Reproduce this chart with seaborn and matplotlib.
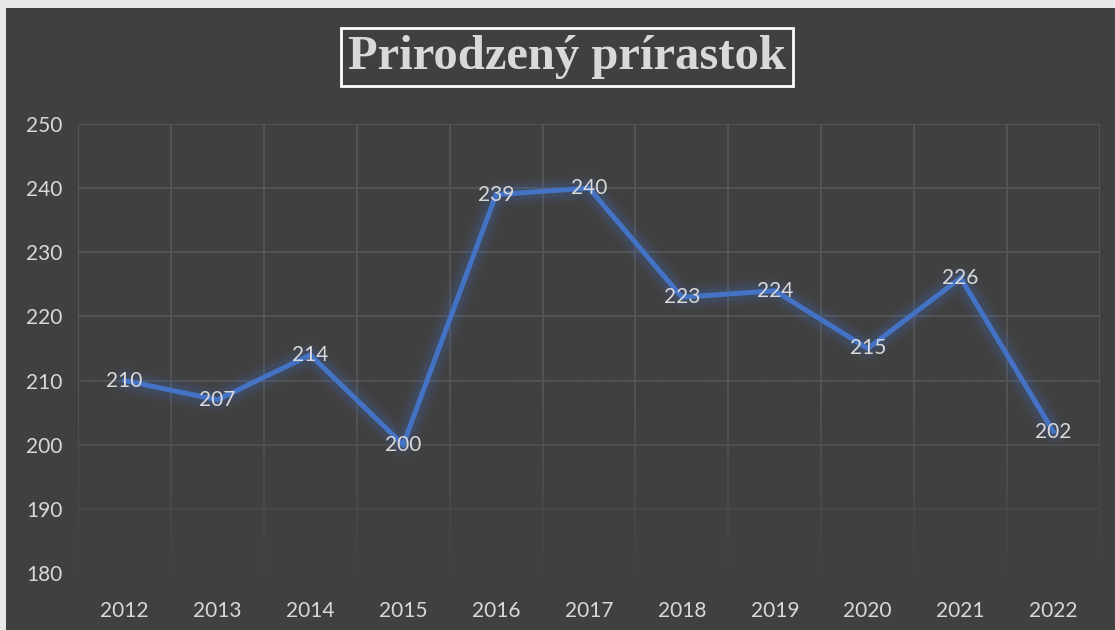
import numpy as np
import matplotlib.pyplot as plt
import matplotlib.patches as patches
import seaborn as sns
import pandas as pd

# data
years = [2012, 2013, 2014, 2015, 2016, 2017, 2018, 2019, 2020, 2021, 2022]
values = [210, 207, 214, 200, 239, 240, 223, 224, 215, 226, 202]
title = 'Prirodzený prírastok'

df = pd.DataFrame({'rok': years, 'prirastok': values})

bg = '#404040'
txt = '#d9d9d9'
blue = '#4472C4'

sns.set_theme(style='dark')
plt.rcParams['font.family'] = ['Lato', 'DejaVu Sans']

fig = plt.figure(figsize=(11.15, 6.3), dpi=100, facecolor='#e8e8e8')
fig.patches.append(patches.Rectangle((6/1115, 0), 1, 1 - 8/630, transform=fig.transFigure,
                                     facecolor=bg, edgecolor='none', zorder=-10))
ax = fig.add_axes([78/1115, 57/630, 1022/1115, 449/630])
ax.set_facecolor(bg)

# glow under the line
for lw, a in [(20, 0.05), (15, 0.08), (10, 0.13)]:
    sns.lineplot(data=df, x='rok', y='prirastok', ax=ax, color=blue, lw=lw, alpha=a,
                 zorder=3, solid_capstyle='round', solid_joinstyle='round')
sns.lineplot(data=df, x='rok', y='prirastok', ax=ax, color=blue, lw=3.6, zorder=4,
             solid_joinstyle='miter')

for x, y in zip(years, values):
    ax.text(x, y, str(y), color=txt, fontsize=15, ha='center', va='center', zorder=5)

ax.set_xlim(2011.5, 2022.5)
ax.set_ylim(180, 250)
ax.set_xticks(years)
ax.set_xticks(np.arange(2011.5, 2023, 1), minor=True)
ax.set_yticks(range(180, 251, 10))
ax.grid(False)
ax.grid(True, which='minor', axis='x', color='#595959', lw=1.1)
ax.grid(True, which='major', axis='y', color='#595959', lw=1.1)
ax.tick_params(axis='both', which='both', length=0, colors=txt, labelsize=15)
ax.tick_params(axis='y', pad=11)
ax.tick_params(axis='x', pad=20)
ax.set_axisbelow(True)
for s in ax.spines.values():
    s.set_visible(False)
ax.set_xlabel(None)
ax.set_ylabel(None)

# fade the grid toward the bottom
grad = np.zeros((200, 1, 4))
grad[..., :3] = 0x40 / 255
t = np.linspace(0, 1, 200)  # 0 = bottom of axes
grad[:, 0, 3] = np.clip(1 - t / 0.45, 0, 1) ** 1.3
grad[:3, 0, 3] = 1
ax.imshow(grad, extent=[0, 1, -0.01, 1], transform=ax.transAxes, aspect='auto',
          origin='lower', zorder=1)
ax.set_xlim(2011.5, 2022.5)
ax.set_ylim(180, 250)

fig.text(567/1115, 1 - 57/630, title, family=['Liberation Serif'], fontweight='bold',
         fontsize=35, color=txt, ha='center', va='center',
         bbox=dict(boxstyle='square,pad=0.15', facecolor=bg, edgecolor='white', lw=2))

plt.savefig('out.png', dpi=100, facecolor=fig.get_facecolor())
